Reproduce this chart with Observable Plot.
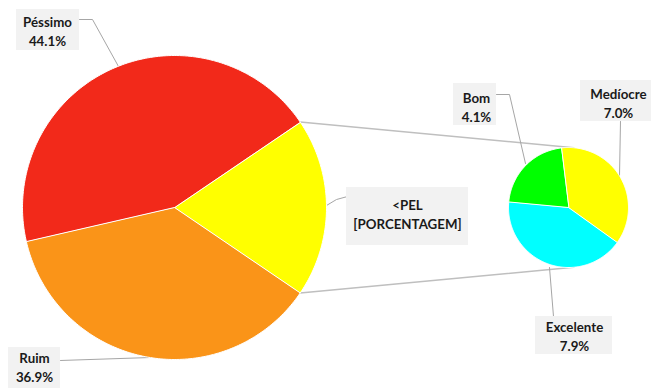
<!DOCTYPE html>
<html><head><meta charset="utf-8">
<script src="https://cdn.jsdelivr.net/npm/d3@7"></script>
<script src="https://cdn.jsdelivr.net/npm/@observablehq/plot@0.6"></script>
<style>body{margin:0;background:#fff}#chart svg{display:block}</style>
</head><body><div id="chart"></div>
<script>
// ---- data ----
const mainCategories = ["<PEL", "Ruim", "Péssimo"];
const mainValues = [19.0, 36.9, 44.1];
const mainValueLabels = ["[PORCENTAGEM]", "36.9%", "44.1%"];
const subCategories = ["Medíocre", "Excelente", "Bom"];
const subValues = [7.0, 7.9, 4.1];
const subValueLabels = ["7.0%", "7.9%", "4.1%"];

// ---- styling / layout ----
const mainColors = ["#FFFF00", "#FA9418", "#F2291A"];
const subColors = ["#FFFF00", "#00FFFF", "#00FF00"];
const W = 651, H = 388;
const mainPie = {cx: 174, cy: 207, r: 152};
const subPie = {cx: 568, cy: 207, r: 60, start: -7 * Math.PI / 180};
const mainLabelLayout = [
  {box: [346, 468, 187, 245], cx: 407, cy: 213, leader: [[347, 196], [336, 199], [326, 205]]},
  {box: [8, 60, 347, 388], cx: 34, cy: 366, leader: [[60, 360], [150, 357]]},
  {box: [16, 79, 9, 50], cx: 47, cy: 30, leader: [[79, 19], [92, 19], [118, 66]]}
];
const subLabelLayout = [
  {box: [580, 655, 80, 121], cx: 618, cy: 102, leader: [[620, 121], [619, 176]]},
  {box: [535, 612, 316, 354], cx: 574, cy: 335, leader: [[553, 316], [549, 267]]},
  {box: [453, 496, 83, 125], cx: 476, cy: 106, leader: [[496, 94], [509, 94], [525, 163]]}
];

function sliceRows(cats, vals, colors, pie, start) {
  const total = d3.sum(vals);
  const rows = [];
  let a = start;
  cats.forEach((c, i) => {
    const span = vals[i] / total * 2 * Math.PI;
    const n = Math.max(2, Math.ceil(span / (Math.PI / 180)));
    rows.push({slice: c, color: colors[i], x: pie.cx, y: pie.cy});
    for (let k = 0; k <= n; k++) {
      const ang = a + span * k / n;
      rows.push({slice: c, color: colors[i], x: pie.cx + pie.r * Math.sin(ang), y: pie.cy - pie.r * Math.cos(ang)});
    }
    a += span;
  });
  return rows;
}

const mainTotal = d3.sum(mainValues);
const mainStart = Math.PI / 2 - (mainValues[0] / mainTotal) * Math.PI;
const mainRows = sliceRows(mainCategories, mainValues, mainColors, mainPie, mainStart);
const subRows = sliceRows(subCategories, subValues, subColors, subPie, subPie.start);

const a1 = mainStart, a2 = mainStart + mainValues[0] / mainTotal * 2 * Math.PI;
const subTopAng = 5 * Math.PI / 180, subBotAng = 175 * Math.PI / 180;
const connectors = [
  {id: "top", x: mainPie.cx + mainPie.r * Math.sin(a1), y: mainPie.cy - mainPie.r * Math.cos(a1)},
  {id: "top", x: subPie.cx + subPie.r * Math.sin(subTopAng), y: subPie.cy - subPie.r * Math.cos(subTopAng)},
  {id: "bot", x: mainPie.cx + mainPie.r * Math.sin(a2), y: mainPie.cy - mainPie.r * Math.cos(a2)},
  {id: "bot", x: subPie.cx + subPie.r * Math.sin(subBotAng), y: subPie.cy - subPie.r * Math.cos(subBotAng)}
];

const labels = [
  ...mainCategories.map((c, i) => ({text: c + "\n" + mainValueLabels[i], ...mainLabelLayout[i], id: c})),
  ...subCategories.map((c, i) => ({text: c + "\n" + subValueLabels[i], ...subLabelLayout[i], id: c}))
];
const leaderRows = labels.flatMap(l => l.leader.map(([x, y]) => ({id: l.id, x, y})));

const chart = Plot.plot({
  width: W, height: H,
  margin: 0,
  x: {domain: [0, W], range: [0, W], axis: null},
  y: {domain: [0, H], range: [0, H], axis: null},
  color: {type: "identity"},
  style: {fontFamily: "Lato, 'Open Sans', sans-serif", background: "#fff"},
  marks: [
    Plot.line(connectors, {x: "x", y: "y", z: "id", stroke: "#BFBFBF", strokeWidth: 1.5}),
    Plot.line(leaderRows, {x: "x", y: "y", z: "id", stroke: "#A6A6A6", strokeWidth: 1}),
    Plot.line(mainRows, {x: "x", y: "y", z: "slice", fill: "color", stroke: "#fff", strokeWidth: 1, curve: "linear-closed"}),
    Plot.line(subRows, {x: "x", y: "y", z: "slice", fill: "color", stroke: "#fff", strokeWidth: 1, curve: "linear-closed"}),
    Plot.rect(labels, {x1: d => d.box[0], x2: d => d.box[1], y1: d => d.box[2], y2: d => d.box[3], fill: "#F2F2F2"}),
    Plot.text(labels, {x: "cx", y: "cy", text: "text", fill: "#1a1a1a", fontSize: 13.3, fontWeight: "bold", lineHeight: 1.38, textAnchor: "middle", lineAnchor: "middle"})
  ]
});
document.getElementById("chart").append(chart);
</script>
</body></html>
